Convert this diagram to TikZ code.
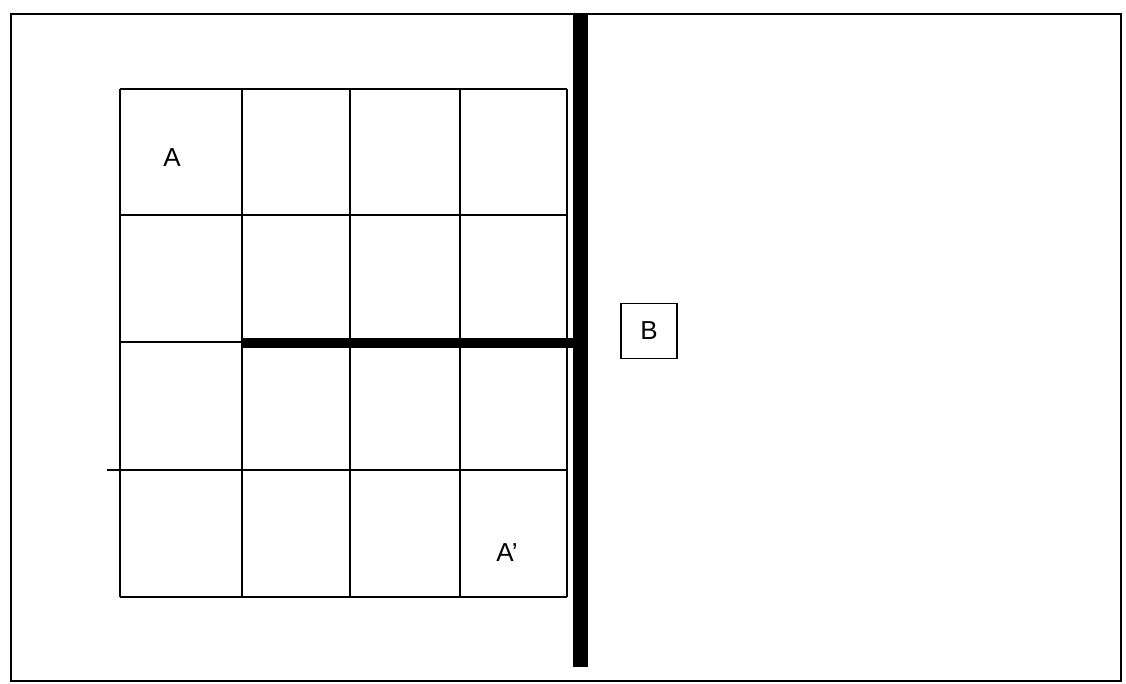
\documentclass[tikz,border=0pt]{standalone}
\usepackage{fontspec}
\setmainfont{Liberation Sans}
\begin{document}
\begin{tikzpicture}[x=0.5pt,y=-0.5pt,font=\fontsize{13}{15}\selectfont,
  thin line/.style={line width=1pt},
  wall/.style={line width=#1,line cap=butt}]
\useasboundingbox (0,0) rectangle (1126,684);
% outer frame
\draw[thin line] (11,14) rectangle (1121,681);
% 4 x 4 grid
\foreach \x in {120,242,350,460,567}
  \draw[thin line] (\x,89) -- (\x,597);
\foreach \y in {89,215,342,470,597}
  \draw[thin line] (120,\y) -- (567,\y);
\draw[thin line] (107,470) -- (120,470);
% thick walls
\coordinate (wall top) at (580,14);
\coordinate (wall bottom) at (580,667);
\coordinate (bar start) at (242,343);
\coordinate (bar end) at (580,343);
\draw[wall=7.5pt] (wall top) -- (wall bottom);
\draw[wall=5pt] (bar start) -- (bar end);
% labels
\node (a) at (172,158) {A};
\node (a prime) at (507,553) {A'};
\node[draw,line width=0.8pt,minimum width=28pt,minimum height=27.5pt,inner sep=0pt] (b) at (649,331) {B};
\end{tikzpicture}
\end{document}
